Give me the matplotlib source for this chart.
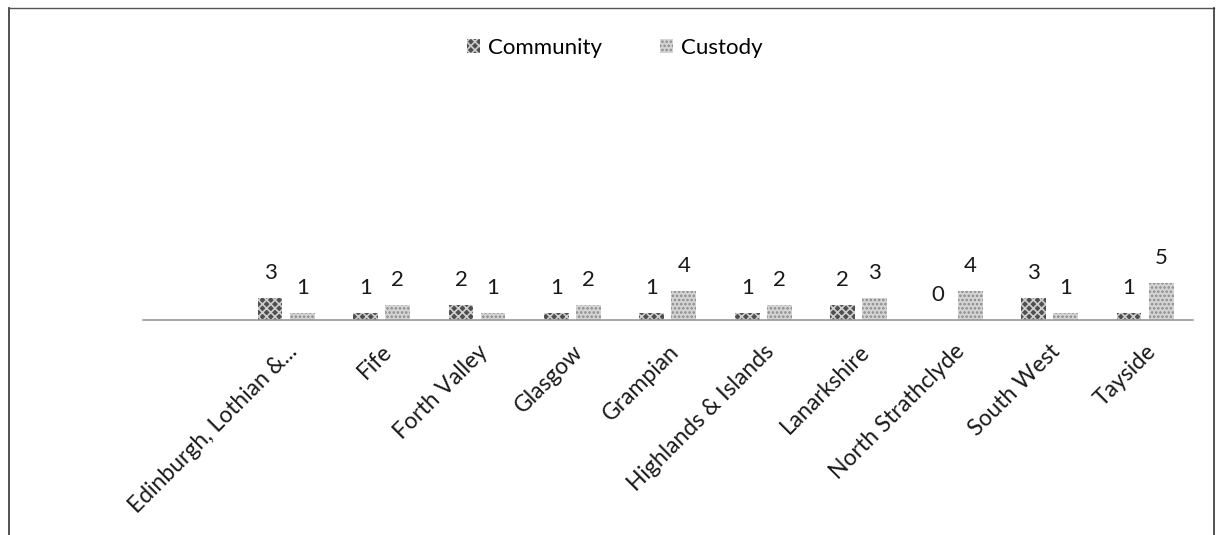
import numpy as np
import matplotlib
matplotlib.use('Agg')
import matplotlib.pyplot as plt
from matplotlib.lines import Line2D

# data
regions = ['Edinburgh, Lothian &...', 'Fife', 'Forth Valley', 'Glasgow', 'Grampian',
           'Highlands & Islands', 'Lanarkshire', 'North Strathclyde', 'South West', 'Tayside']
community = [3, 1, 2, 1, 1, 1, 2, 0, 3, 1]
custody = [1, 2, 1, 2, 4, 2, 3, 4, 1, 5]

plt.rcParams['font.family'] = ['Lato', 'DejaVu Sans']
plt.rcParams['hatch.linewidth'] = 1.2

fig = plt.figure(figsize=(12.25, 5.35), dpi=100)
ax = fig.add_axes([0.1167, 0.4019, 0.857, 0.467])

x = np.arange(len(regions))
w = 0.26
b1 = ax.bar(x - 0.168, community, w, color='#4f4f4f', edgecolor='#cfcfcf',
            hatch='xxxx', linewidth=0, label='Community')
b2 = ax.bar(x + 0.168, custody, w, color='#d4d4d4', edgecolor='#8a8a8a',
            hatch='....', linewidth=0, label='Custody')

for bars, vals in [(b1, community), (b2, custody)]:
    for bar, v in zip(bars, vals):
        ax.annotate(str(v), (bar.get_x() + bar.get_width() / 2, v),
                    xytext=(0, 18), textcoords='offset points',
                    ha='center', va='center', fontsize=16, color='#1a1a1a')

ax.set_xlim(-1.5, 9.5)
ax.set_ylim(0, 34)
ax.set_yticks([])
for s in ['top', 'right', 'left']:
    ax.spines[s].set_visible(False)
ax.spines['bottom'].set_color('#9a9a9a')
ax.spines['bottom'].set_linewidth(1.2)

ax.set_xticks(x)
ax.set_xticklabels(regions, rotation=45, ha='right', rotation_mode='anchor',
                   fontsize=16.5, color='#1a1a1a')
ax.tick_params(axis='x', length=0, pad=15)
for lbl in ax.get_xticklabels():
    lbl.set_x(lbl.get_position()[0])

fig.legend(handles=[b1, b2], loc='center', bbox_to_anchor=(0.502, 0.91), ncol=2,
           frameon=False, fontsize=16, handlelength=0.6, handleheight=0.6,
           handletextpad=0.35, columnspacing=2.6)

# outer chart border (scanned frame)
fig.add_artist(Line2D([0.007, 0.007], [0.0, 0.985], color='#333333', lw=1.2))
fig.add_artist(Line2D([0.007, 0.991], [0.985, 0.985], color='#555555', lw=1))
fig.add_artist(Line2D([0.991, 0.991], [0.0, 0.985], color='#333333', lw=1.2))

fig.savefig('out.png', dpi=100)
